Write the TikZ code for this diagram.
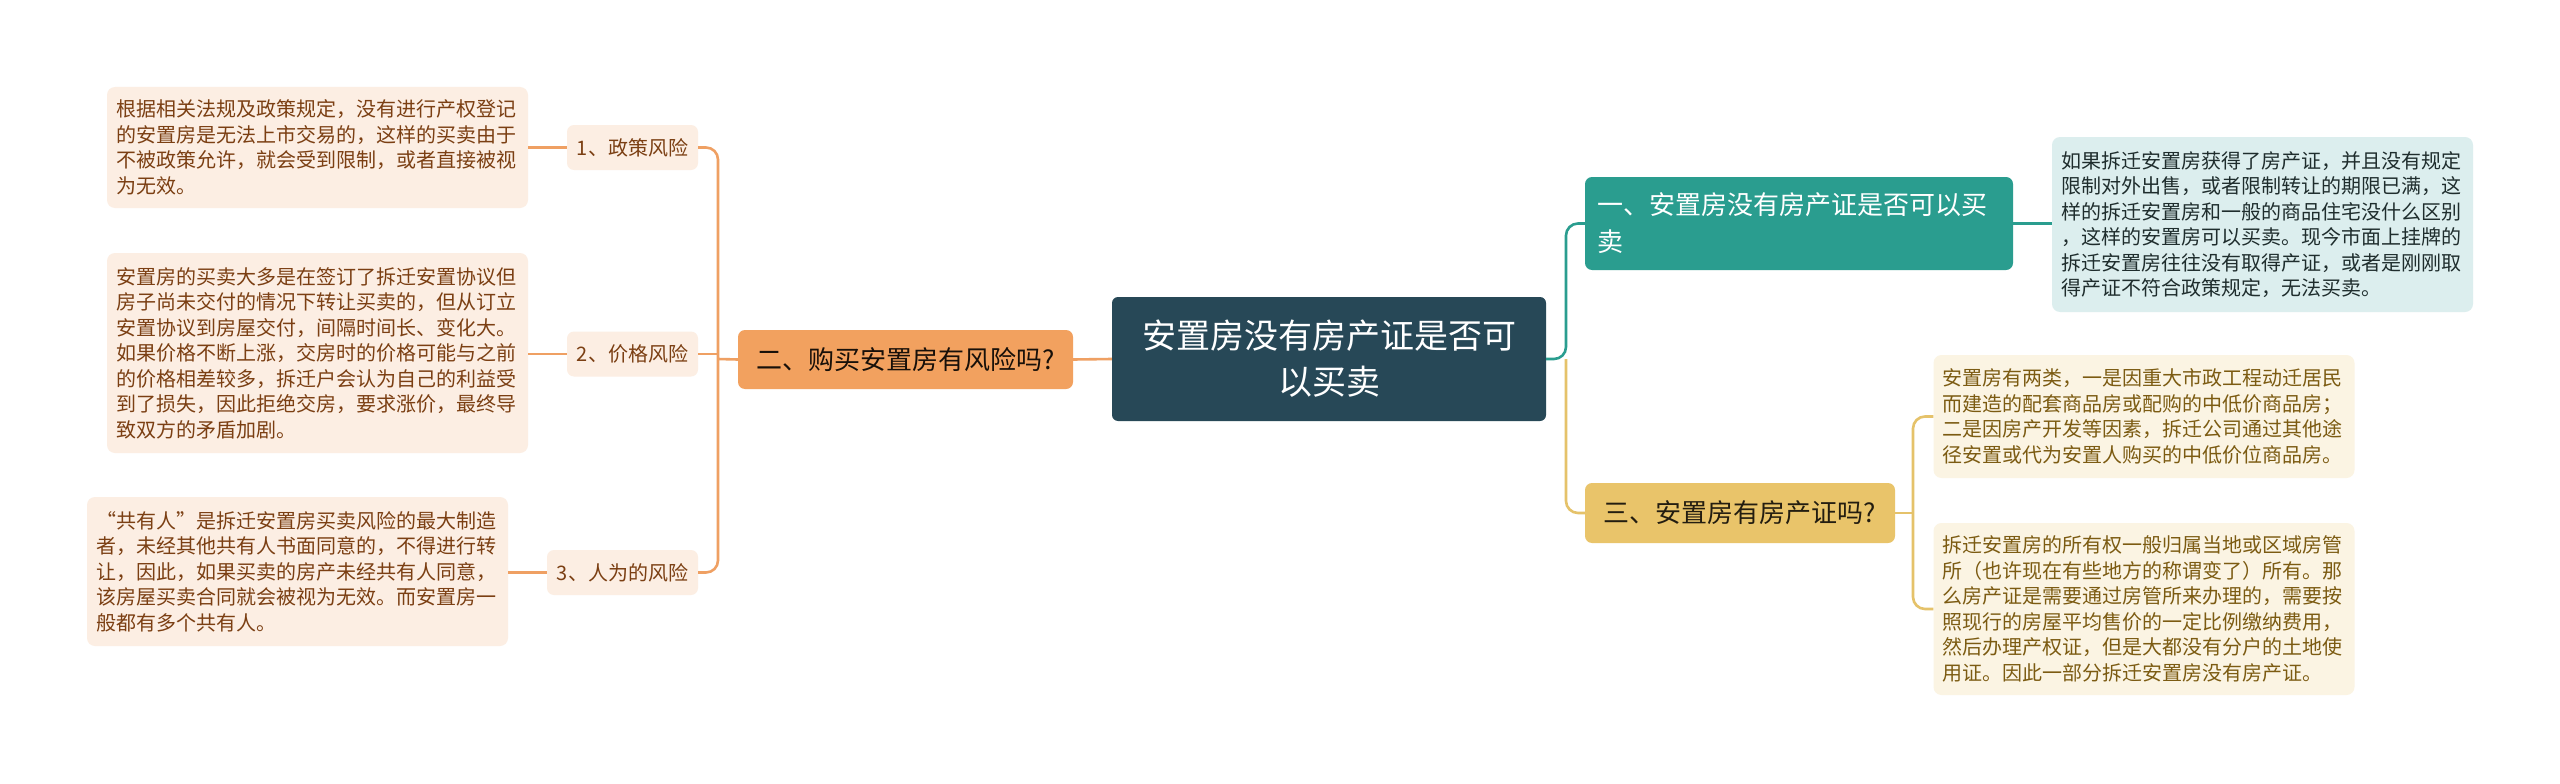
\documentclass[tikz,border=0pt]{standalone}
\usepackage{fontspec}
\setmainfont{Noto Sans CJK SC}
\definecolor{rootc}{HTML}{274857}
\definecolor{tealc}{HTML}{2A9D8F}
\definecolor{yellowc}{HTML}{E9C46A}
\definecolor{orangec}{HTML}{F2A15F}
\definecolor{olinec}{HTML}{EFA063}
\definecolor{ylinec}{HTML}{E5C26A}
\definecolor{peachc}{HTML}{FCEEE3}
\definecolor{browntxt}{HTML}{7B3F13}
\definecolor{tealleaf}{HTML}{DCEEEE}
\definecolor{tealtxt}{HTML}{1F2D2D}
\definecolor{creamc}{HTML}{FBF4E3}
\definecolor{olivetxt}{HTML}{7C5B12}
\tikzset{
  leafbase/.style={rounded corners=8pt, inner xsep=9pt, inner ysep=0pt, align=left,
    text width=403pt, minimum height=#1, font=\fontsize{20}{25.5}\selectfont},
  leafO/.style={leafbase=#1, fill=peachc, text=browntxt},
  leafT/.style={leafbase=#1, fill=tealleaf, text=tealtxt},
  leafY/.style={leafbase=#1, fill=creamc, text=olivetxt},
  subnode/.style={rounded corners=7pt, fill=peachc, text=browntxt, inner sep=0pt,
    minimum width=#1, minimum height=45pt, font=\fontsize{20}{24}\selectfont},
  branchbox/.style={rounded corners=7pt, inner sep=0pt, font=\fontsize{26}{37}\selectfont},
  conn/.style={line width=2.6pt, rounded corners=12pt},
}
\begin{document}
\begin{tikzpicture}[x=1pt,y=-1pt]
\useasboundingbox (0,0) rectangle (2560,784);
\fill[white] (0,0) rectangle (2560,784);

% root
\node[rounded corners=6pt, fill=rootc, text=white, inner sep=0pt, minimum width=434pt,
  minimum height=124pt, align=center, font=\fontsize{34}{46}\selectfont]
  (root) at (1329,359) {安置房没有房产证是否可\\以买卖};

% left branch
\node[branchbox, fill=orangec, text=black!75!orangec!40!black, minimum width=335pt, minimum height=59pt]
  (b2) at (905.5,359.5) {二、购买安置房有风险吗?};
\node[subnode=131pt] (s1) at (632.5,147.5) {1、政策风险};
\node[subnode=131pt] (s2) at (632.5,354) {2、价格风险};
\node[subnode=151pt] (s3) at (622.5,572.5) {3、人为的风险};

\node[leafO=121pt] (l1) at (317.5,147.5) {根据相关法规及政策规定，没有进行产权登记\\的安置房是无法上市交易的，这样的买卖由于\\不被政策允许，就会受到限制，或者直接被视\\为无效。};
\node[leafO=200pt] (l2) at (317.5,353) {安置房的买卖大多是在签订了拆迁安置协议但\\房子尚未交付的情况下转让买卖的，但从订立\\安置协议到房屋交付，间隔时间长、变化大。\\如果价格不断上涨，交房时的价格可能与之前\\的价格相差较多，拆迁户会认为自己的利益受\\到了损失，因此拒绝交房，要求涨价，最终导\\致双方的矛盾加剧。};
\node[leafO=149pt] (l3) at (297.5,571.5) {“共有人”是拆迁安置房买卖风险的最大制造\\者，未经其他共有人书面同意的，不得进行转\\让，因此，如果买卖的房产未经共有人同意，\\该房屋买卖合同就会被视为无效。而安置房一\\般都有多个共有人。};

% right branches
\node[branchbox, fill=tealc, text=white, minimum width=428pt, minimum height=93pt,
  text width=404pt, inner xsep=12pt, align=left]
  (b1) at (1799,223.5) {一、安置房没有房产证是否可以买\\卖};
\node[branchbox, fill=yellowc, text=black!85!yellowc, minimum width=310pt, minimum height=60pt]
  (b3) at (1740,513) {三、安置房有房产证吗?};

\node[leafT=175pt] (r1) at (2262.5,224.5) {如果拆迁安置房获得了房产证，并且没有规定\\限制对外出售，或者限制转让的期限已满，这\\样的拆迁安置房和一般的商品住宅没什么区别\\，这样的安置房可以买卖。现今市面上挂牌的\\拆迁安置房往往没有取得产证，或者是刚刚取\\得产证不符合政策规定，无法买卖。};
\node[leafY=123pt] (r3a) at (2144,416.5) {安置房有两类，一是因重大市政工程动迁居民\\而建造的配套商品房或配购的中低价商品房；\\二是因房产开发等因素，拆迁公司通过其他途\\径安置或代为安置人购买的中低价位商品房。};
\node[leafY=172pt] (r3b) at (2144,609) {拆迁安置房的所有权一般归属当地或区域房管\\所（也许现在有些地方的称谓变了）所有。那\\么房产证是需要通过房管所来办理的，需要按\\照现行的房屋平均售价的一定比例缴纳费用，\\然后办理产权证，但是大都没有分户的土地使\\用证。因此一部分拆迁安置房没有房产证。};

% connectors left
\coordinate (jl) at (718,359);
\draw[conn, draw=olinec] (root.west) -- (b2.east);
\draw[conn, draw=olinec] (b2.west) -- (jl);
\draw[conn, draw=olinec] (s1.east) -| (jl) |- (s3.east);
\draw[conn, draw=olinec] (s2.east) -- (s2.east -| jl);
\draw[line width=2.4pt, draw=olinec] (s1.west) -- (l1.east |- s1.west);
\draw[line width=2.4pt, draw=olinec] (s2.west) -- (l2.east |- s2.west);
\draw[line width=2.4pt, draw=olinec] (s3.west) -- (l3.east |- s3.west);

% connectors right
\coordinate (jr) at (1566,359);
\draw[conn, draw=tealc] (root.east) -- (jr) |- (b1.west);
\draw[conn, draw=ylinec] (jr) |- (b3.west);
\draw[line width=2.6pt, draw=tealc] (b1.east) -- (r1.west |- b1.east);
\coordinate (jy) at (1913,513);
\draw[conn, draw=ylinec] (b3.east) -- (jy);
\draw[conn, draw=ylinec] (r3a.west) -| (jy) |- (r3b.west);
\end{tikzpicture}
\end{document}
